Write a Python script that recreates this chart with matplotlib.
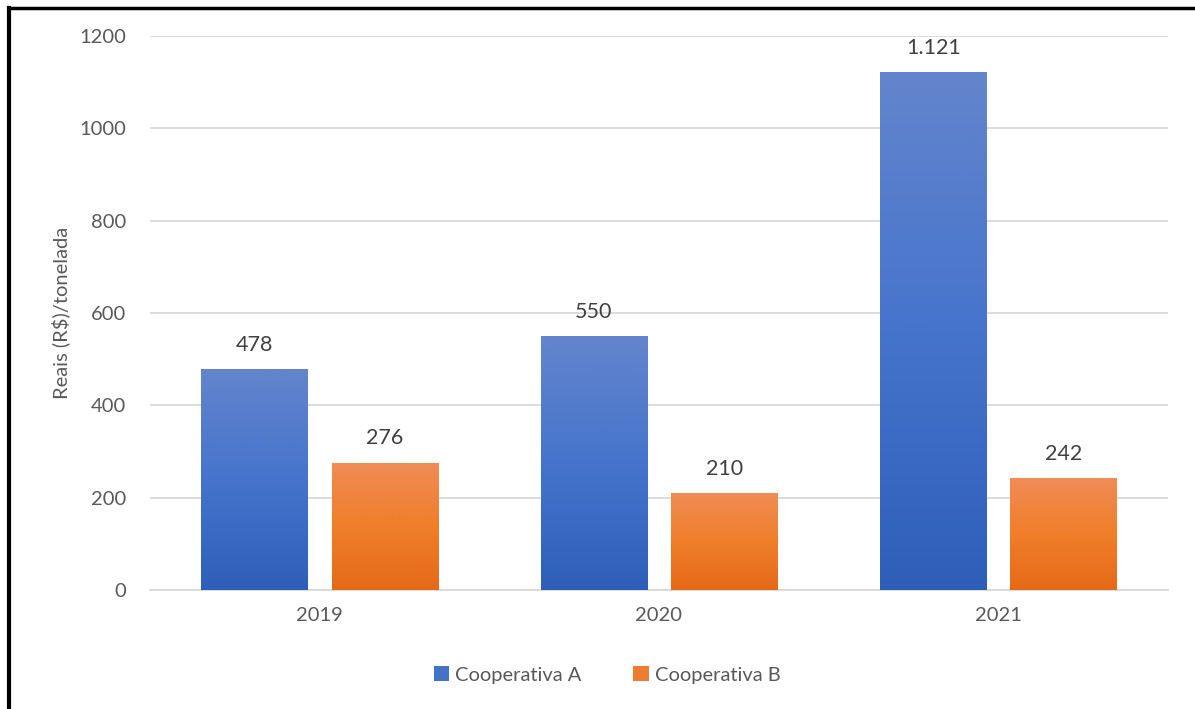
import numpy as np
import matplotlib
matplotlib.use("Agg")
import matplotlib.pyplot as plt
from matplotlib.colors import LinearSegmentedColormap
from matplotlib.patches import Rectangle, Patch

plt.rcParams['font.family'] = ['Lato', 'DejaVu Sans']

years = ["2019", "2020", "2021"]
coop_a = [478, 550, 1121]
coop_b = [276, 210, 242]
series_names = ["Cooperativa A", "Cooperativa B"]
yticks = [0, 200, 400, 600, 800, 1000, 1200]
ylabel = "Reais (R$)/tonelada"


def fmt_pt(v):
    return f"{v:,}".replace(",", ".")


fig = plt.figure(figsize=(11.95, 7.09), dpi=100)
ax = fig.add_axes([150 / 1195, 1 - 590 / 709, 1018 / 1195, 554 / 709])

blue_cmap = LinearSegmentedColormap.from_list("blue", ["#2D5FB9", "#4674CC", "#6385CC"])
orange_cmap = LinearSegmentedColormap.from_list("orange", ["#E46A18", "#F07E2A", "#F08C56"])

width = 0.313
gap = 0.071
x = np.arange(len(years))
grad = np.linspace(0, 1, 256).reshape(-1, 1)

for i in range(len(years)):
    for vals, cmap, off in ((coop_a, blue_cmap, -(width + gap) / 2),
                            (coop_b, orange_cmap, (width + gap) / 2)):
        x0 = x[i] + off - width / 2
        h = vals[i]
        im = ax.imshow(grad, cmap=cmap, origin="lower", aspect="auto",
                       extent=(x0, x0 + width, 0, h), zorder=3)
        rect = Rectangle((x0, 0), width, h, transform=ax.transData, facecolor="none",
                         edgecolor="none")
        ax.add_patch(rect)
        im.set_clip_path(rect)
        ax.text(x0 + width / 2, h + 31, fmt_pt(h), ha="center", va="bottom",
                fontsize=15.5, color="#404040", zorder=4)

ax.set_xlim(-0.5, len(years) - 0.5)
ax.set_ylim(0, 1200)
ax.set_yticks(yticks)
ax.set_yticklabels([str(t) for t in yticks])
ax.set_xticks(x)
ax.set_xticklabels(years)
ax.tick_params(axis="both", length=0, labelsize=14.5, colors="#595959")
ax.tick_params(axis="y", pad=17)
ax.tick_params(axis="x", pad=12)
ax.grid(axis="y", color="#D9D9D9", linewidth=1.3, zorder=0)
ax.set_axisbelow(True)
for s in ("top", "right", "left"):
    ax.spines[s].set_visible(False)
ax.spines["bottom"].set_color("#D9D9D9")
ax.spines["bottom"].set_linewidth(1.3)
ax.set_ylabel(ylabel, fontsize=14.5, color="#595959")
ax.yaxis.set_label_coords(-80 / 1018, 0.5)

handles = [Patch(facecolor="#4472C4", edgecolor="none"),
           Patch(facecolor="#ED7D31", edgecolor="none")]
fig.legend(handles, series_names, loc="center", bbox_to_anchor=(607 / 1195, 1 - 675 / 709),
           ncol=2, frameon=False, fontsize=14.5, handlelength=0.75, handleheight=0.75,
           columnspacing=2.6, handletextpad=0.3, labelcolor="#595959")

# frame edges along the top and left
fig.add_artist(plt.Line2D([8.5 / 1195, 1], [1 - 8 / 709, 1 - 8 / 709], color="black",
                          linewidth=2.5, transform=fig.transFigure))
fig.add_artist(plt.Line2D([8.5 / 1195, 8.5 / 1195], [0, 1 - 8 / 709], color="black",
                          linewidth=3, transform=fig.transFigure))

fig.savefig("out.png", dpi=100)
